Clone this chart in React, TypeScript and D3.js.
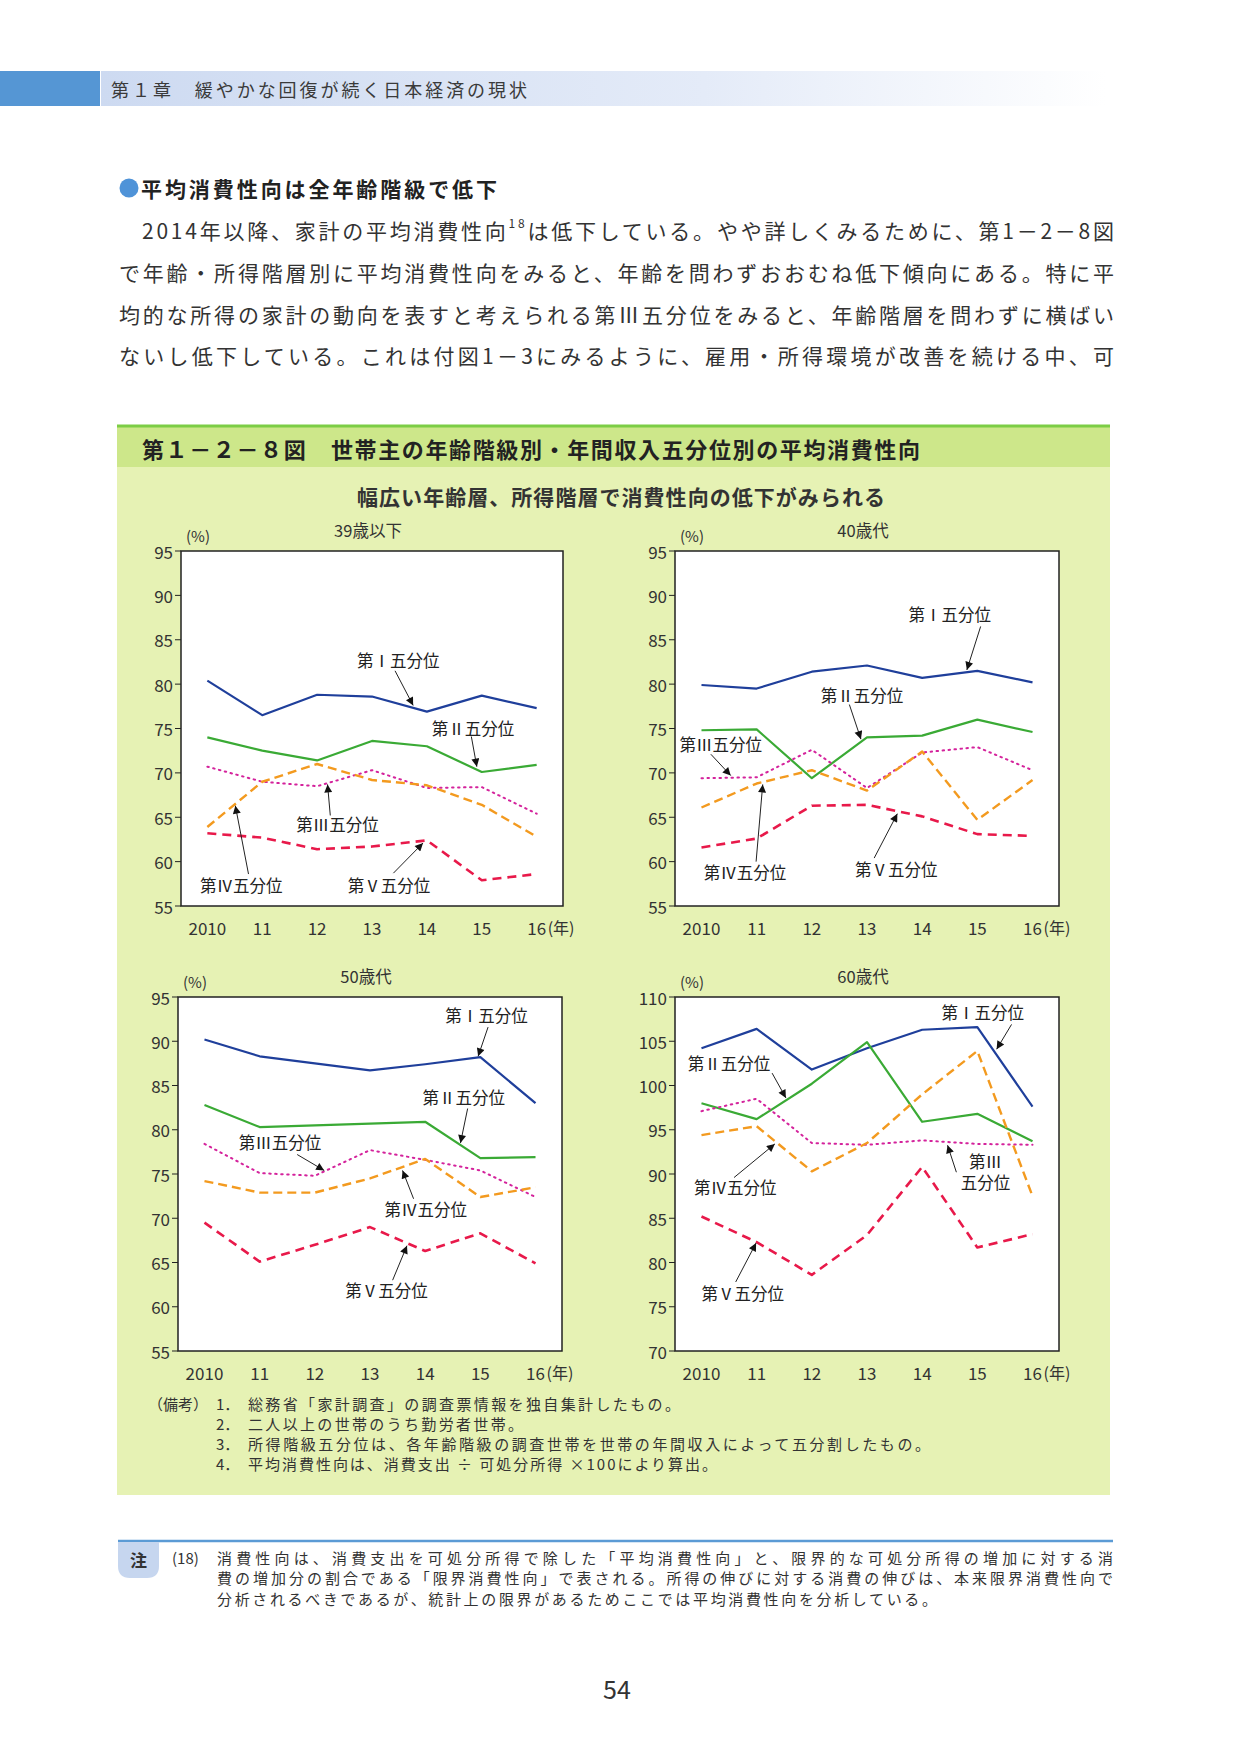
import * as d3 from "d3";
import React from "react";

// years on the x axis
const years = [2010, 2011, 2012, 2013, 2014, 2015, 2016];
const yearLabels = ["2010", "11", "12", "13", "14", "15", "16"];
const quintileNames = ["第Ⅰ五分位", "第Ⅱ五分位", "第Ⅲ五分位", "第Ⅳ五分位", "第Ⅴ五分位"];

// 39歳以下 (%)
const u39Q1 = [80.4, 76.5, 78.8, 78.6, 76.9, 78.7, 77.3];
const u39Q2 = [74.0, 72.5, 71.4, 73.6, 73.0, 70.1, 70.9];
const u39Q3 = [70.7, 69.0, 68.5, 70.3, 68.3, 68.4, 65.4];
const u39Q4 = [63.9, 69.0, 71.0, 69.2, 68.6, 66.4, 62.8];
const u39Q5 = [63.2, 62.7, 61.4, 61.7, 62.4, 57.9, 58.6];

// 40歳代
const s40Q1 = [79.9, 79.5, 81.4, 82.1, 80.7, 81.5, 80.2];
const s40Q2 = [74.8, 74.9, 69.4, 74.0, 74.2, 76.0, 74.6];
const s40Q3 = [69.4, 69.5, 72.6, 68.3, 72.3, 72.9, 70.3];
const s40Q4 = [66.1, 68.8, 70.3, 68.0, 72.4, 64.7, 69.2];
const s40Q5 = [61.6, 62.6, 66.3, 66.4, 65.1, 63.1, 62.9];

// 50歳代
const s50Q1 = [90.2, 88.3, 87.5, 86.7, 87.4, 88.2, 83.0];
const s50Q2 = [82.8, 80.3, 80.5, 80.7, 80.9, 76.8, 76.9];
const s50Q3 = [78.4, 75.1, 74.8, 77.7, 76.6, 75.4, 72.4];
const s50Q4 = [74.2, 72.9, 72.9, 74.5, 76.7, 72.4, 73.5];
const s50Q5 = [69.5, 65.1, 67.0, 69.0, 66.3, 68.3, 64.9];

// 60歳代
const s60Q1 = [104.2, 106.4, 101.8, 104.2, 106.3, 106.6, 97.6];
const s60Q2 = [98.0, 96.2, 100.2, 104.9, 95.9, 96.8, 93.7];
const s60Q3 = [97.1, 98.5, 93.5, 93.3, 93.8, 93.4, 93.3];
const s60Q4 = [94.4, 95.4, 90.3, 93.5, 99.0, 103.9, 87.5];
const s60Q5 = [85.2, 82.3, 78.6, 83.1, 90.8, 81.7, 83.2];

// label callouts in data units: [labelYear, labelValue, fromYear, fromValue, toYear, toValue]
const u39Labels = [
  [2013.48, 82.7, 2013.42, 81.5, 2013.75, 77.6],
  [2014.84, 75.1, 2014.81, 74.1, 2014.91, 70.7],
  [2012.37, 64.2, 2012.24, 65.2, 2012.19, 68.7],
  [2010.62, 57.4, 2010.75, 58.6, 2010.51, 66.3],
  [2013.31, 57.4, 2013.39, 58.7, 2013.93, 62.1],
];
const s40Labels = [
  [2014.5, 87.9, 2015.06, 86.5, 2014.81, 81.6],
  [2012.91, 78.8, 2012.68, 77.7, 2012.89, 73.8],
  [2010.35, 73.3, 2010.17, 72.1, 2010.53, 69.7],
  [2010.79, 58.8, 2010.99, 60.0, 2011.11, 68.7],
  [2013.53, 59.2, 2013.13, 60.4, 2013.55, 65.4],
];
const s50Labels = [
  [2015.11, 93.0, 2015.14, 91.6, 2014.96, 88.3],
  [2014.7, 83.7, 2014.77, 82.4, 2014.64, 78.5],
  [2011.37, 78.6, 2011.68, 77.2, 2012.17, 75.4],
  [2014.01, 71.0, 2013.79, 72.2, 2013.59, 75.4],
  [2013.3, 61.9, 2013.41, 63.0, 2013.67, 66.9],
];
const s60Labels = [
  [2015.1, 108.3, 2015.62, 106.9, 2015.35, 104.1],
  [2010.5, 102.5, 2011.28, 101.4, 2011.53, 98.6],
  [2015.15, 90.25, 2014.62, 90.2, 2014.46, 93.25],
  [2010.61, 88.5, 2010.59, 89.6, 2011.33, 93.4],
  [2010.75, 76.55, 2010.62, 77.8, 2010.99, 82.2],
];
const s60LabelText = ["第Ⅰ五分位", "第Ⅱ五分位", "第Ⅲ\n五分位", "第Ⅳ五分位", "第Ⅴ五分位"];

const ticks55to95 = d3.range(55, 96, 5);
const ticks70to110 = d3.range(70, 111, 5);

const seriesStyles = [
  { color: "#1f3f9b", width: 2.2, dash: "none" },
  { color: "#3aaa35", width: 2.2, dash: "none" },
  { color: "#d4239c", width: 2, dash: "1.5 4.5" },
  { color: "#f39a1f", width: 2.4, dash: "9 5" },
  { color: "#e8194a", width: 2.6, dash: "9 6" },
];

const panels = [
  { title: "39歳以下", domain: [55, 95], ticks: ticks55to95, frame: { x: 181, y: 551, w: 382, h: 355 }, series: [u39Q1, u39Q2, u39Q3, u39Q4, u39Q5], labels: u39Labels, labelText: quintileNames },
  { title: "40歳代", domain: [55, 95], ticks: ticks55to95, frame: { x: 675, y: 551, w: 384, h: 355 }, series: [s40Q1, s40Q2, s40Q3, s40Q4, s40Q5], labels: s40Labels, labelText: quintileNames },
  { title: "50歳代", domain: [55, 95], ticks: ticks55to95, frame: { x: 178, y: 997, w: 384, h: 354 }, series: [s50Q1, s50Q2, s50Q3, s50Q4, s50Q5], labels: s50Labels, labelText: quintileNames },
  { title: "60歳代", domain: [70, 110], ticks: ticks70to110, frame: { x: 675, y: 997, w: 384, h: 354 }, series: [s60Q1, s60Q2, s60Q3, s60Q4, s60Q5], labels: s60Labels, labelText: s60LabelText },
];

const paragraph = [
  "で年齢・所得階層別に平均消費性向をみると、年齢を問わずおおむね低下傾向にある。特に平",
  "均的な所得の家計の動向を表すと考えられる第Ⅲ五分位をみると、年齢階層を問わずに横ばい",
  "ないし低下している。これは付図1－3にみるように、雇用・所得環境が改善を続ける中、可",
];
const remarks = [
  ["1．", "総務省「家計調査」の調査票情報を独自集計したもの。", 432],
  ["2．", "二人以上の世帯のうち勤労者世帯。", 275],
  ["3．", "所得階級五分位は、各年齢階級の調査世帯を世帯の年間収入によって五分割したもの。", 682],
  ["4．", "平均消費性向は、消費支出 ÷ 可処分所得 ×100により算出。", 469],
];
const footnote = [
  ["消費性向は、消費支出を可処分所得で除した「平均消費性向」と、限界的な可処分所得の増加に対する消", 896],
  ["費の増加分の割合である「限界消費性向」で表される。所得の伸びに対する消費の伸びは、本来限界消費性向で", 896],
  ["分析されるべきであるが、統計上の限界があるためここでは平均消費性向を分析している。", 720],
];

const sans = '"Noto Sans CJK JP", "Noto Sans", sans-serif';

const Panel: React.FC<{ p: (typeof panels)[number] }> = ({ p }) => {
  const { frame } = p;
  const x = d3.scaleLinear().domain([2009.52, 2016.48]).range([frame.x, frame.x + frame.w]);
  const y = d3.scaleLinear().domain(p.domain).range([frame.y + frame.h, frame.y]);
  const line = d3
    .line<number>()
    .x((_, i) => x(years[i]))
    .y((d) => y(d));
  const cx = frame.x + frame.w / 2 - 4;
  const xLabelY = frame.y + frame.h + 21;

  return (
    <g fontFamily={sans} fill="#333">
      <rect x={frame.x} y={frame.y} width={frame.w} height={frame.h} fill="#fff" />
      <text x={cx} y={frame.y - 21} fontSize={16.5} textAnchor="middle" dominantBaseline="central">
        {p.title}
      </text>
      <text x={frame.x + 17} y={frame.y - 16} fontSize={15} textAnchor="middle" dominantBaseline="central">
        (%)
      </text>
      {p.ticks.map((t) => (
        <g key={t}>
          <line x1={frame.x - 6} x2={frame.x} y1={y(t)} y2={y(t)} stroke="#222" strokeWidth={1} />
          <text x={frame.x - 8} y={y(t)} fontSize={17} textAnchor="end" dominantBaseline="central">
            {t}
          </text>
        </g>
      ))}
      {years.map((yr, i) => (
        <text key={yr} x={x(yr)} y={xLabelY} fontSize={17} textAnchor="middle" dominantBaseline="central">
          {yearLabels[i]}
        </text>
      ))}
      <text x={x(2016) + 11} y={xLabelY} fontSize={16} dominantBaseline="central">
        (年)
      </text>
      {p.series.map((s, i) => (
        <path
          key={i}
          d={line(s) ?? ""}
          fill="none"
          stroke={seriesStyles[i].color}
          strokeWidth={seriesStyles[i].width}
          strokeDasharray={seriesStyles[i].dash}
          strokeLinecap={i === 2 ? "round" : "butt"}
          strokeLinejoin="round"
        />
      ))}
      {p.labels.map((a, i) => {
        const rows = p.labelText[i].split("\n");
        return (
          <g key={i}>
            <line
              x1={x(a[2])}
              y1={y(a[3])}
              x2={x(a[4])}
              y2={y(a[5])}
              stroke="#222"
              strokeWidth={1}
              markerEnd="url(#arrowHead)"
            />
            {rows.map((r, j) => (
              <text
                key={j}
                x={x(a[0])}
                y={y(a[1]) + (j - (rows.length - 1) / 2) * 21}
                fontSize={16.5}
                fill="#222"
                textAnchor="middle"
                dominantBaseline="central"
              >
                {r}
              </text>
            ))}
          </g>
        );
      })}
      <rect x={frame.x} y={frame.y} width={frame.w} height={frame.h} fill="none" stroke="#222" strokeWidth={1.5} />
    </g>
  );
};

export default function App() {
  return (
    <div style={{ position: "absolute", left: 0, top: 0 }}>
      <svg width={1241} height={1754} viewBox="0 0 1241 1754" style={{ display: "block", background: "#fff" }}>
        <defs>
          <linearGradient id="headGrad" x1="0" x2="1" y1="0" y2="0">
            <stop offset="0" stopColor="#cddaf1" />
            <stop offset="0.6" stopColor="#e4ebf8" />
            <stop offset="1" stopColor="#ffffff" />
          </linearGradient>
          <marker id="arrowHead" viewBox="0 0 10 10" refX="10" refY="5" markerWidth="10" markerHeight="8" markerUnits="userSpaceOnUse" orient="auto">
            <path d="M0,0 L10,5 L0,10 z" fill="#111" />
          </marker>
        </defs>

        {/* chapter header */}
        <rect x={0} y={71} width={100} height={35} fill="#5596d4" />
        <rect x={101} y={71} width={1005} height={35} fill="url(#headGrad)" />
        <text x={111} y={89} fontFamily={sans} fontSize={18} fill="#3a3a3a" dominantBaseline="central" textLength={416} lengthAdjust="spacing">
          第１章　緩やかな回復が続く日本経済の現状
        </text>

        {/* section heading + body */}
        <circle cx={129} cy={188} r={9.5} fill="#4f93d8" />
        <text x={141} y={188} fontFamily={sans} fontSize={21} fontWeight={700} fill="#222" dominantBaseline="central" textLength={356} lengthAdjust="spacing">
          平均消費性向は全年齢階級で低下
        </text>
        <text x={142} y={230} fontFamily={sans} fontSize={21} fill="#333" dominantBaseline="central" textLength={972} lengthAdjust="spacing">
          2014年以降、家計の平均消費性向
          <tspan fontSize={12} dy={-8}>18</tspan>
          <tspan dy={8}>は低下している。やや詳しくみるために、第1－2－8図</tspan>
        </text>
        {paragraph.map((t, i) => (
          <text key={i} x={119} y={272 + i * 41.5} fontFamily={sans} fontSize={21} fill="#333" dominantBaseline="central" textLength={995} lengthAdjust="spacing">
            {t}
          </text>
        ))}

        {/* figure box */}
        <rect x={117} y={466} width={993} height={1029} fill="#e6f2b4" />
        <rect x={117} y={427} width={993} height={40} fill="#cde78a" />
        <line x1={117} x2={1110} y1={426} y2={426} stroke="#7ccd45" strokeWidth={3} />
        <text x={142} y={448} fontFamily={sans} fontSize={22} fontWeight={700} fill="#222" dominantBaseline="central" textLength={778} lengthAdjust="spacing">
          第１－２－８図　世帯主の年齢階級別・年間収入五分位別の平均消費性向
        </text>
        <text x={357} y={496} fontFamily={sans} fontSize={21} fontWeight={700} fill="#333" dominantBaseline="central" textLength={528} lengthAdjust="spacing">
          幅広い年齢層、所得階層で消費性向の低下がみられる
        </text>

        {panels.map((p) => (
          <Panel key={p.title} p={p} />
        ))}

        {/* remarks */}
        <g fontFamily={sans} fontSize={15} fill="#333">
          <text x={148} y={1403} dominantBaseline="central">（備考）</text>
          {remarks.map((r, i) => (
            <g key={i}>
              <text x={216} y={1403 + i * 20.3} dominantBaseline="central">
                {r[0]}
              </text>
              <text x={248} y={1403 + i * 20.3} dominantBaseline="central" textLength={r[2] as number} lengthAdjust="spacing">
                {r[1]}
              </text>
            </g>
          ))}
        </g>

        {/* footnote */}
        <line x1={118} x2={1113} y1={1541} y2={1541} stroke="#5b9bd5" strokeWidth={2.5} />
        <path d="M118,1542 H159 V1566 Q159,1578 147,1578 H130 Q118,1578 118,1566 Z" fill="#c6d6ef" />
        <text x={138.5} y={1559} fontFamily={sans} fontSize={17} fontWeight={700} fill="#333" textAnchor="middle" dominantBaseline="central">
          注
        </text>
        <g fontFamily={sans} fontSize={15} fill="#333">
          <text x={172} y={1557} dominantBaseline="central">(18)</text>
          {footnote.map((f, i) => (
            <text key={i} x={217} y={1557 + i * 20.5} dominantBaseline="central" textLength={f[1] as number} lengthAdjust="spacing">
              {f[0]}
            </text>
          ))}
        </g>

        <text x={617} y={1688} fontFamily={sans} fontSize={25} fill="#333" textAnchor="middle" dominantBaseline="central">
          54
        </text>
      </svg>
    </div>
  );
}
